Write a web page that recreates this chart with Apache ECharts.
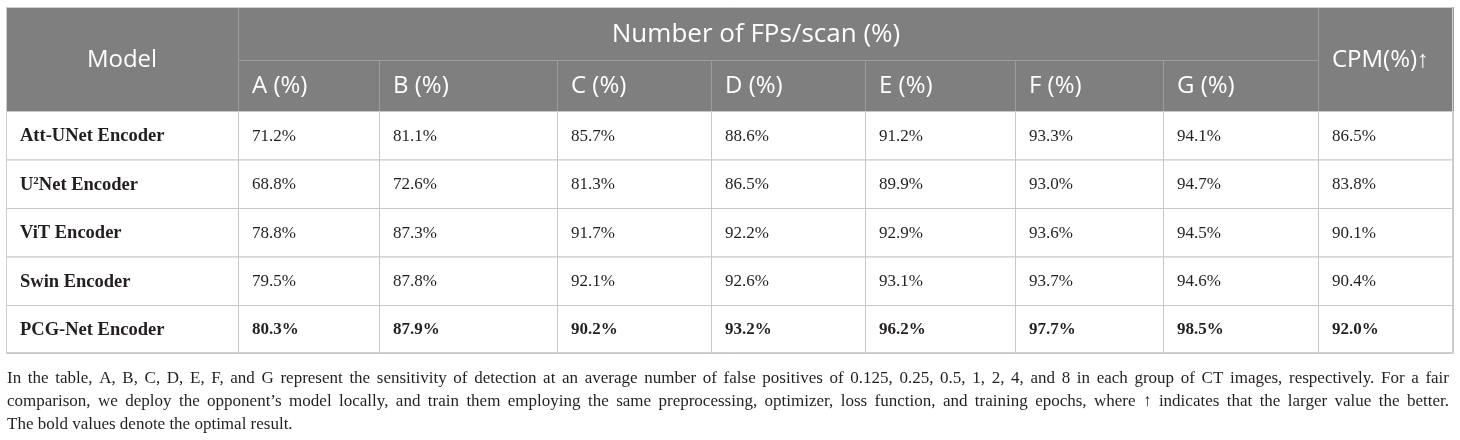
<!DOCTYPE html>
<html>
<head>
<meta charset="utf-8">
<script src="https://cdn.jsdelivr.net/npm/echarts@6/dist/echarts.min.js"></script>
<style>
  html, body { margin: 0; padding: 0; background: #fff; }
  #table_show { width: 1460px; height: 440px; }
</style>
</head>
<body>
<div id="table_show"></div>
<script>
// table content
var groupTitle = 'Number of FPs/scan (%)';
var modelTitle = 'Model';
var cpmTitle = 'CPM(%)↑';
var columns = ['A (%)', 'B (%)', 'C (%)', 'D (%)', 'E (%)', 'F (%)', 'G (%)'];
var models = ['Att-UNet Encoder', 'U{sup|2}Net Encoder', 'ViT Encoder', 'Swin Encoder', 'PCG-Net Encoder'];
var colA = [71.2, 68.8, 78.8, 79.5, 80.3];
var colB = [81.1, 72.6, 87.3, 87.8, 87.9];
var colC = [85.7, 81.3, 91.7, 92.1, 90.2];
var colD = [88.6, 86.5, 92.2, 92.6, 93.2];
var colE = [91.2, 89.9, 92.9, 93.1, 96.2];
var colF = [93.3, 93.0, 93.6, 93.7, 97.7];
var colG = [94.1, 94.7, 94.5, 94.6, 98.5];
var cpm = [86.5, 83.8, 90.1, 90.4, 92.0];
var boldRow = 4; // PCG-Net
var note = [
  'In the table, A, B, C, D, E, F, and G represent the sensitivity of detection at an average number of false positives of 0.125, 0.25, 0.5, 1, 2, 4, and 8 in each group of CT images, respectively. For a fair',
  'comparison, we deploy the opponent\u2019s model locally, and train them employing the same preprocessing, optimizer, loss function, and training epochs, where \u2191 indicates that the larger value the better.',
  'The bold values denote the optimal result.'
];

// layout (column / row edges in table units)
var colEdges = [0, 232, 373, 551, 705, 859, 1009, 1157, 1312, 1447];
var rowEdges = [0, 53, 104, 152.5, 201, 249.5, 298, 346];

(function () {
  var myChart = echarts.init(document.getElementById('table_show'));
  var serif = '"Liberation Serif", "Times New Roman", serif';
  var sans = '"Open Sans", "Noto Sans", sans-serif';

  // cells: [col, row, colSpan, rowSpan, text, kind]
  var cells = [];
  cells.push([0, 0, 1, 2, modelTitle, 'hc']);
  cells.push([1, 0, 7, 1, groupTitle, 'hg']);
  cells.push([8, 0, 1, 2, cpmTitle, 'hc']);
  columns.forEach(function (c, i) { cells.push([i + 1, 1, 1, 1, c, 'hl']); });
  var cols = [colA, colB, colC, colD, colE, colF, colG, cpm];
  models.forEach(function (m, r) {
    var kindB = r === boldRow ? 'bb' : 'b';
    cells.push([0, r + 2, 1, 1, m, 'bm']);
    cols.forEach(function (arr, c) {
      cells.push([c + 1, r + 2, 1, 1, arr[r].toFixed(1) + '%', kindB]);
    });
  });
  cells.push([0, 0, 9, 7, '', 'frame']);

  function renderItem(params, api) {
    var c = api.value(0), r = api.value(1), cs = api.value(2), rs = api.value(3);
    var item = cells[params.dataIndex];
    var text = item[4], kind = item[5];
    var p0 = api.coord([colEdges[c], rowEdges[r]]);
    var p1 = api.coord([colEdges[c + cs], rowEdges[r + rs]]);
    var x = p0[0], y = p0[1], w = p1[0] - p0[0], h = p1[1] - p0[1];
    if (kind === 'frame') {
      return { type: 'rect', shape: { x: x + 0.5, y: y + 0.5, width: w - 1, height: h - 1 },
        style: { fill: null, stroke: '#cfcfcf', lineWidth: 1 }, z2: 20 };
    }
    var head = kind.charAt(0) === 'h';
    var children = [{
      type: 'rect',
      shape: { x: x + 0.5, y: y + 0.5, width: w, height: h },
      style: { fill: head ? '#7f7f7f' : '#fff', stroke: head ? '#9c9c9c' : '#c8c8c8', lineWidth: 1 }
    }];
    var style;
    if (head) {
      var cx = x + w / 2;
      if (kind === 'hg') cx -= 22;
      if (kind === 'hc' && c === 8) cx -= 5;
      style = {
        text: text, x: kind === 'hl' ? x + 14 : cx, y: y + h / 2 + 1,
        align: kind === 'hl' ? 'left' : 'center', verticalAlign: 'middle',
        fill: '#fff', font: (kind === 'hg' ? '26px ' : '24px ') + sans
      };
    } else {
      var isModel = kind === 'bm';
      style = {
        text: text, x: x + 14, y: y + h / 2 + 1,
        align: 'left', verticalAlign: 'middle',
        fill: '#231f20', fontFamily: serif, fontSize: isModel ? 18.5 : 17,
        fontWeight: kind === 'b' ? 'normal' : 'bold',
        rich: {
          sup: { fontFamily: serif, fontSize: 11, fontWeight: 'bold', fill: '#231f20',
            verticalAlign: 'top', lineHeight: 14 }
        }
      };
    }
    children.push({ type: 'text', style: style, z2: 30 });
    return { type: 'group', children: children };
  }

  // footnote, first two lines justified across the table width
  var noteFont = '17px ' + serif;
  var ctx = document.createElement('canvas').getContext('2d');
  ctx.font = noteFont;
  var noteLeft = 7, noteWidth = 1442, noteTop = 367, noteLine = 23;
  var noteGraphics = [];
  note.forEach(function (line, li) {
    var words = line.split(' ');
    var top = noteTop + li * noteLine;
    if (li === note.length - 1) {
      noteGraphics.push({ type: 'text', x: noteLeft, y: top,
        style: { text: line, font: noteFont, fill: '#231f20', lineHeight: noteLine } });
      return;
    }
    var widths = words.map(function (wd) { return ctx.measureText(wd).width; });
    var total = widths.reduce(function (a, b) { return a + b; }, 0);
    var gap = (noteWidth - total) / (words.length - 1);
    var xx = noteLeft;
    words.forEach(function (wd, i) {
      noteGraphics.push({ type: 'text', x: xx, y: top,
        style: { text: wd, font: noteFont, fill: '#231f20', lineHeight: noteLine } });
      xx += widths[i] + gap;
    });
  });

  var option = {
    animation: false,
    grid: { left: 6, top: 7, right: 7, bottom: 87 },
    xAxis: { type: 'value', min: 0, max: colEdges[colEdges.length - 1], show: false },
    yAxis: { type: 'value', min: 0, max: rowEdges[rowEdges.length - 1], inverse: true, show: false },
    graphic: noteGraphics,
    series: [{
      type: 'custom',
      renderItem: renderItem,
      encode: { x: [0], y: [1] },
      clip: false,
      data: cells.map(function (d) { return [d[0], d[1], d[2], d[3]]; })
    }]
  };
  myChart.setOption(option);
})();
</script>
</body>
</html>
